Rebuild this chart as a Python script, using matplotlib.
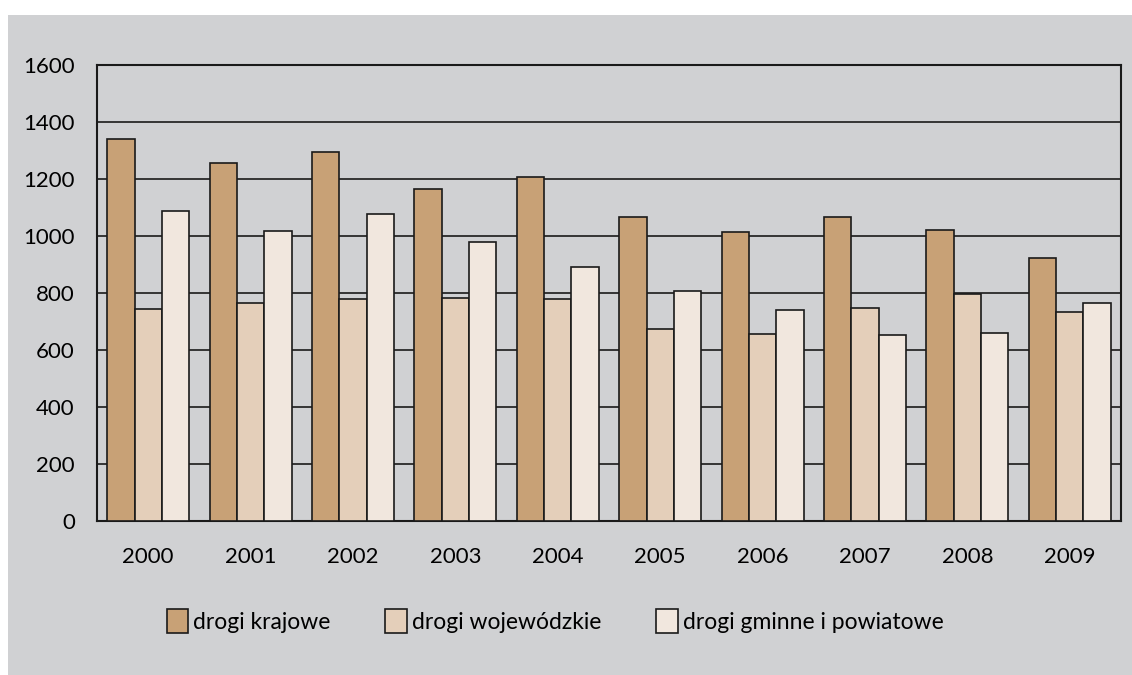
import numpy as np
import matplotlib.pyplot as plt
from matplotlib.patches import Rectangle

plt.rcParams['font.family'] = ['Lato', 'DejaVu Sans']

lata = ['2000', '2001', '2002', '2003', '2004', '2005', '2006', '2007', '2008', '2009']
krajowe = [1342, 1255, 1294, 1164, 1206, 1068, 1015, 1067, 1021, 924]
wojewodzkie = [743, 765, 780, 781, 778, 674, 657, 749, 796, 732]
gminne = [1089, 1016, 1077, 980, 891, 807, 741, 653, 660, 764]

serie = ['drogi krajowe', 'drogi wojewódzkie', 'drogi gminne i powiatowe']
kolory = ['#c8a176', '#e4cfba', '#f1e7de']
tlo = '#d0d1d3'

fig = plt.figure(figsize=(11.32, 6.75), dpi=100)
fig.patch.set_facecolor('white')
# szare tło wykresu
fig.patches.append(Rectangle((8 / 1132, 0), 1124 / 1132, 660 / 675,
                             transform=fig.transFigure, facecolor=tlo,
                             edgecolor='none', zorder=-10))

ax = fig.add_axes([97 / 1132, 154 / 675, 1024 / 1132, 456 / 675])
ax.set_facecolor(tlo)

x = np.arange(len(lata))
w = 0.267
for i, (dane, kolor, nazwa) in enumerate(zip([krajowe, wojewodzkie, gminne], kolory, serie)):
    ax.bar(x + (i - 1) * w, dane, width=w, color=kolor, edgecolor='#1a1a1a',
           linewidth=1.2, label=nazwa, zorder=3)

ax.set_xlim(-0.5, len(lata) - 0.5)
ax.set_ylim(0, 1600)
ax.set_yticks(np.arange(0, 1601, 200))
ax.set_xticks(x)
ax.set_xticklabels(lata)
ax.tick_params(axis='both', length=0, labelsize=16, colors='black')
ax.tick_params(axis='x', pad=19)
ax.tick_params(axis='y', pad=16)
ax.yaxis.grid(True, color='#1a1a1a', linewidth=1.2, zorder=1)
for s in ax.spines.values():
    s.set_linewidth(1.5)
    s.set_color('#1a1a1a')

leg = fig.legend(loc='center', bbox_to_anchor=(555 / 1132, (675 - 621) / 675), ncol=3,
                 frameon=False, fontsize=16.5, handlelength=0.95, handleheight=1.3,
                 handletextpad=0.2, columnspacing=2.4)

plt.savefig('out.png', dpi=100)
